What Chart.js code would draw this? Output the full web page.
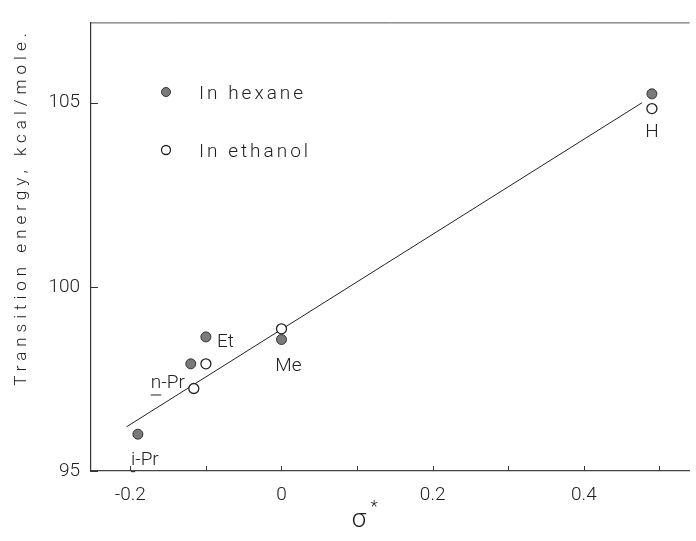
<!DOCTYPE html>
<html>
<head>
<meta charset="utf-8">
<script src="https://cdn.jsdelivr.net/npm/chart.js@4.4.1/dist/chart.umd.min.js"></script>
<style>
  html, body { margin: 0; padding: 0; background: #fff; }
  canvas { display: block; }
</style>
</head>
<body>
<canvas id="chart" width="696" height="541"></canvas>
<script>
// sigma* values and transition energies (kcal/mole)
const substituents = ["H", "Me", "Et", "n-Pr", "i-Pr"];
const hexaneX = [0.49, 0, -0.10, -0.12, -0.19];
const hexaneY = [105.24, 98.57, 98.64, 97.91, 96.0];
const ethanolX = [0.49, 0, -0.10, -0.116];
const ethanolY = [104.84, 98.86, 97.91, 97.24];
const fitX = [-0.205, 0.477];
const fitY = [96.2, 105.0];

const xTicks = [-0.2, -0.1, 0, 0.1, 0.2, 0.3, 0.4, 0.5];
const xLabelled = [-0.2, 0, 0.2, 0.4];
const yTicks = [95, 100, 105];

const FONT = "Roboto";
const INK = "#222";

const pts = (xs, ys) => xs.map((x, i) => ({ x, y: ys[i] }));

// where each substituent name sits relative to its point
const labelPlace = {
  "H":    { ref: "ethanol", dx: 0,   dy: 24, align: "center" },
  "Me":   { ref: "hexane",  dx: 7,   dy: 27, align: "center" },
  "Et":   { ref: "hexane",  dx: 11,  dy: 5,  align: "left" },
  "n-Pr": { ref: "ethanol", dx: -9,  dy: -5, align: "right" },
  "i-Pr": { ref: "hexane",  dx: 7,   dy: 26, align: "center" },
};

function drawName(ctx, name, px, py, align) {
  ctx.font = `300 19px ${FONT}`;
  ctx.fillStyle = INK;
  ctx.textAlign = align;
  ctx.textBaseline = "middle";
  ctx.fillText(name, px, py);
  if (name.includes("-")) {
    // underline the prefix (n-, i-)
    const w = ctx.measureText(name).width;
    const first = ctx.measureText(name[0]).width;
    let left = px;
    if (align === "center") left = px - w / 2;
    if (align === "right") left = px - w;
    ctx.strokeStyle = INK;
    ctx.lineWidth = 1;
    ctx.beginPath();
    ctx.moveTo(left, py + 11.5);
    ctx.lineTo(left + first, py + 11.5);
    ctx.stroke();
  }
}

const decor = {
  id: "decor",
  afterDraw(chart) {
    const { ctx, chartArea: a, scales: { x, y } } = chart;
    ctx.save();

    // frame top
    ctx.strokeStyle = "#555";
    ctx.lineWidth = 1;
    ctx.beginPath();
    ctx.moveTo(a.left, a.top + 0.5);
    ctx.lineTo(a.right, a.top + 0.5);
    ctx.stroke();

    // inward tick marks
    ctx.strokeStyle = "#333";
    ctx.beginPath();
    x.ticks.forEach((t) => {
      const px = Math.round(x.getPixelForValue(t.value)) + 0.5;
      ctx.moveTo(px, a.bottom);
      ctx.lineTo(px, a.bottom - 5);
    });
    y.ticks.forEach((t) => {
      const py = Math.round(y.getPixelForValue(t.value)) + 0.5;
      ctx.moveTo(a.left, py);
      ctx.lineTo(a.left + 7, py);
    });
    ctx.stroke();

    // substituent names
    substituents.forEach((name, i) => {
      const p = labelPlace[name];
      const xs = p.ref === "ethanol" ? ethanolX : hexaneX;
      const ys = p.ref === "ethanol" ? ethanolY : hexaneY;
      const px = x.getPixelForValue(xs[i]);
      const py = y.getPixelForValue(ys[i]);
      drawName(ctx, name, px + p.dx, py + p.dy, p.align);
    });

    // legend
    const ds = chart.data.datasets;
    [ds[0], ds[1]].forEach((d, i) => {
      const ly = 92 + i * 58;
      ctx.beginPath();
      ctx.arc(166, ly, 4.5, 0, Math.PI * 2);
      ctx.fillStyle = d.backgroundColor;
      ctx.fill();
      ctx.lineWidth = d.borderWidth;
      ctx.strokeStyle = d.borderColor;
      ctx.stroke();
      ctx.font = `300 19px ${FONT}`;
      ctx.letterSpacing = "3px";
      ctx.fillStyle = INK;
      ctx.textAlign = "left";
      ctx.textBaseline = "middle";
      ctx.fillText(d.label, 199, ly + 2);
    });

    // axis titles
    ctx.letterSpacing = "5px";
    ctx.font = `300 17px ${FONT}`;
    ctx.save();
    ctx.translate(22, 207);
    ctx.rotate(-Math.PI / 2);
    ctx.textAlign = "center";
    ctx.fillText("Transition energy, kcal/mole.", 0, 0);
    ctx.restore();

    ctx.letterSpacing = "0px";
    ctx.font = `300 26px ${FONT}`;
    ctx.textAlign = "center";
    ctx.fillText("σ", 359, 520);
    ctx.font = `300 17px ${FONT}`;
    ctx.fillText("*", 374, 508);

    ctx.restore();
  },
};

new Chart(document.getElementById("chart"), {
  type: "scatter",
  data: {
    datasets: [
      {
        label: "In hexane",
        data: pts(hexaneX, hexaneY),
        backgroundColor: "#7a7a7a",
        borderColor: "#333",
        borderWidth: 1,
        pointRadius: 5,
      },
      {
        label: "In ethanol",
        data: pts(ethanolX, ethanolY),
        backgroundColor: "#fff",
        borderColor: "#222",
        borderWidth: 1.3,
        pointRadius: 5,
      },
      {
        label: "fit",
        data: pts(fitX, fitY),
        showLine: true,
        borderColor: "#222",
        borderWidth: 1,
        pointRadius: 0,
      },
    ],
  },
  options: {
    responsive: false,
    animation: false,
    layout: { padding: { top: 13, right: 0, left: 0, bottom: 0 } },
    plugins: { legend: { display: false }, tooltip: { enabled: false } },
    scales: {
      x: {
        type: "linear",
        min: -0.252,
        max: 0.54,
        afterBuildTicks: (s) => { s.ticks = xTicks.map((v) => ({ value: v })); },
        afterFit: (s) => { s.height = 70; },
        grid: { display: false, drawTicks: false },
        border: { display: true, color: "#444", width: 1.2 },
        ticks: {
          padding: 13,
          color: INK,
          font: { family: FONT, size: 19, weight: 300 },
          callback: (v) => (xLabelled.some((l) => Math.abs(l - v) < 1e-9) ? String(Math.round(v * 10) / 10) : ""),
        },
      },
      y: {
        type: "linear",
        min: 95,
        max: 107.18,
        afterBuildTicks: (s) => { s.ticks = yTicks.map((v) => ({ value: v })); },
        afterFit: (s) => { s.width = 91; },
        grid: { display: false, drawTicks: false },
        border: { display: true, color: "#333", width: 1.2 },
        ticks: {
          padding: 11,
          color: INK,
          font: { family: FONT, size: 19, weight: 300 },
          callback: (v) => String(v),
        },
      },
    },
  },
  plugins: [decor],
});
</script>
</body>
</html>
